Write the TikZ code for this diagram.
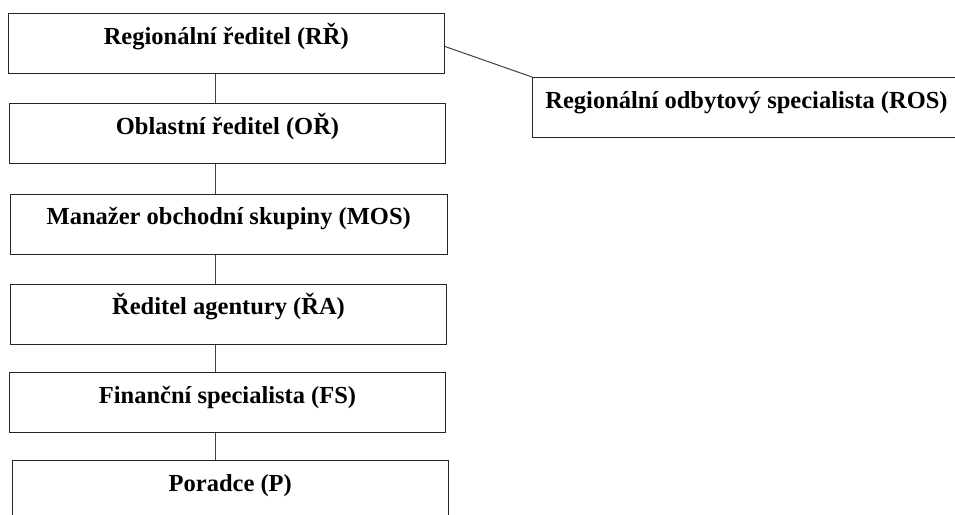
\documentclass[tikz,border=0pt]{standalone}
\usepackage{fontspec}
\setmainfont{Liberation Serif}
\begin{document}
\begin{tikzpicture}[x=1pt,y=-1pt,
  orgbox/.style={draw=black!85, line width=1pt, rectangle, inner sep=0pt,
    minimum width=#1, text height=30.5pt, text depth=29.5pt,
    font=\fontsize{24.5}{28}\selectfont\bfseries, anchor=north west},
  orgbox/.default=436.5pt,
  link/.style={draw=black!75, line width=1pt}]
\useasboundingbox (0,0) rectangle (955,514);
\clip (0,0) rectangle (955,514);
\node[orgbox=436.5pt] (rr)  at (7.5,13)   {Regionální ředitel (RŘ)};
\node[orgbox=436pt]   (or)  at (9,103)    {Oblastní ředitel (OŘ)};
\node[orgbox=436.5pt] (mos) at (10,193.5) {Manažer obchodní skupiny (MOS)};
\node[orgbox=436pt]   (ra)  at (10,283.5) {Ředitel agentury (ŘA)};
\node[orgbox=436pt]   (fs)  at (9,372)    {Finanční specialista (FS)};
\node[orgbox=435.5pt] (p)   at (12,460)   {Poradce (P)};
\node[orgbox=428pt]   (ros) at (532,77)   {Regionální odbytový specialista (ROS)};
\coordinate (axis) at (215,0);
\draw[link] (rr.south -| axis) -- (or.north -| axis);
\draw[link] (or.south -| axis) -- (mos.north -| axis);
\draw[link] (mos.south -| axis) -- (ra.north -| axis);
\draw[link] (ra.south -| axis) -- (fs.north -| axis);
\draw[link] (fs.south -| axis) -- (p.north -| axis);
\draw[link] ([yshift=-3pt]rr.east) -- (ros.north west);
\end{tikzpicture}
\end{document}
